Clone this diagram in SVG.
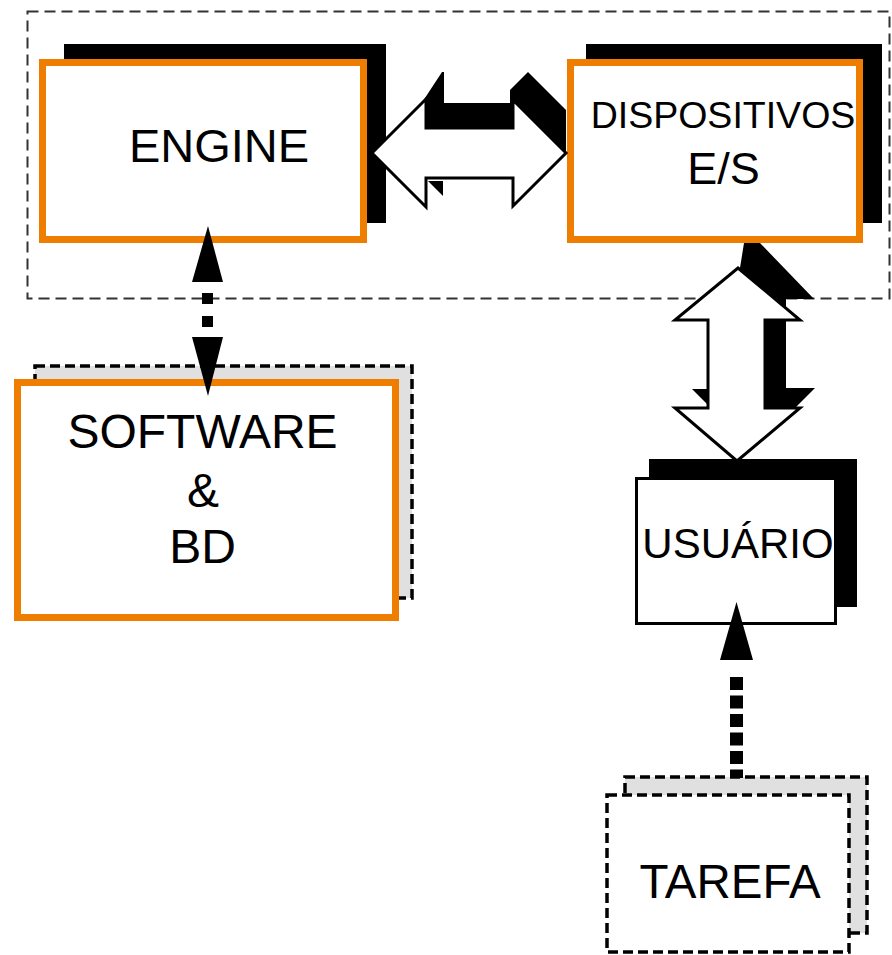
<svg xmlns="http://www.w3.org/2000/svg" width="892" height="955" viewBox="0 0 892 955">
<style>
.lbl{font-family:"Liberation Sans",Arial,sans-serif;fill:#000;text-anchor:middle}
.orange{fill:#fff;stroke:#ee7d00;stroke-width:7}
.shadow{fill:#000}
.dash{fill:none;stroke:#000;stroke-width:3.5;stroke-dasharray:10 5}
.gray{fill:#e0e0e0;stroke:#000;stroke-width:3.5;stroke-dasharray:10 5}
.hollow{fill:#fff;stroke:#000;stroke-width:3;stroke-linejoin:miter}
</style>
<rect width="892" height="955" fill="#fff"/>
<g id="system-boundary">
<rect x="27.5" y="11.5" width="862" height="287" fill="none" stroke="#333" stroke-width="2" stroke-dasharray="11 6"/>
</g>
<g id="engine">
<rect class="shadow" x="64" y="44" width="322" height="179"/>
<rect class="orange" x="42.5" y="62.5" width="321" height="177"/>
<text class="lbl" x="219" y="162" font-size="47">ENGINE</text>
</g>
<g id="dispositivos">
<rect class="shadow" x="586" y="44" width="296" height="179"/>
<rect class="orange" x="570.5" y="62.5" width="289" height="177"/>
<text class="lbl" x="723" y="128" font-size="37.5">DISPOSITIVOS</text>
<text class="lbl" x="723.5" y="184" font-size="45">E/S</text>
</g>
<g id="software-bd">
<rect class="gray" x="35" y="366" width="377" height="232"/>
<rect class="orange" x="17.5" y="382.5" width="378" height="235"/>
<text class="lbl" x="202.5" y="448" font-size="48">SOFTWARE</text>
<text class="lbl" x="203" y="507" font-size="48">&amp;</text>
<text class="lbl" x="202.5" y="563" font-size="48">BD</text>
</g>
<g id="usuario">
<rect class="shadow" x="649" y="459" width="208" height="148"/>
<rect x="636.5" y="478.5" width="199" height="145" fill="#fff" stroke="#000" stroke-width="3"/>
<text class="lbl" x="738" y="558" font-size="42">USUÁRIO</text>
</g>
<g id="tarefa">
<rect class="gray" x="625" y="777" width="242" height="156"/>
<rect class="dash" x="607" y="795" width="242" height="157" style="fill:#fff"/>
<text class="lbl" x="730" y="898" font-size="47.5">TAREFA</text>
</g>
<g id="connectors">
<g id="engine-dispositivos">
<polygon class="shadow" points="423,101 442,72 444,72 444,103 510,103 510,90 528,72 566,110 566,153 513,100 513,128 426,128 426,99"/>
<polygon class="shadow" points="428,181 443,181 443,196"/>
<polygon class="hollow" points="372,153 426,99 426,128 513,128 513,100 566,153 513,206 513,178 426,178 426,207"/>
</g>
<g id="dispositivos-usuario">
<polygon class="shadow" points="744,243 760,243 814,299 786,299 786,388 815,388 793,410 740,410 740,268"/>
<polygon class="shadow" points="692,389 710,389 710,407"/>
<polygon class="hollow" points="738,268 800,320 765,320 765,408 800,408 737,461 675,408 708,408 708,320 675,320"/>
</g>
<g id="engine-software">
<polygon points="208,226 192,282 223,282"/>
<rect x="202" y="293" width="11" height="11"/>
<rect x="202" y="316" width="11" height="11"/>
<polygon points="192,337 223,337 208,396"/>
</g>
<g id="tarefa-usuario">
<polygon points="736.5,602 720,660 753,660"/>
<line x1="736.5" y1="677" x2="736.5" y2="778" stroke="#000" stroke-width="13" stroke-dasharray="13 5.5"/>
</g>
</g>
</svg>
